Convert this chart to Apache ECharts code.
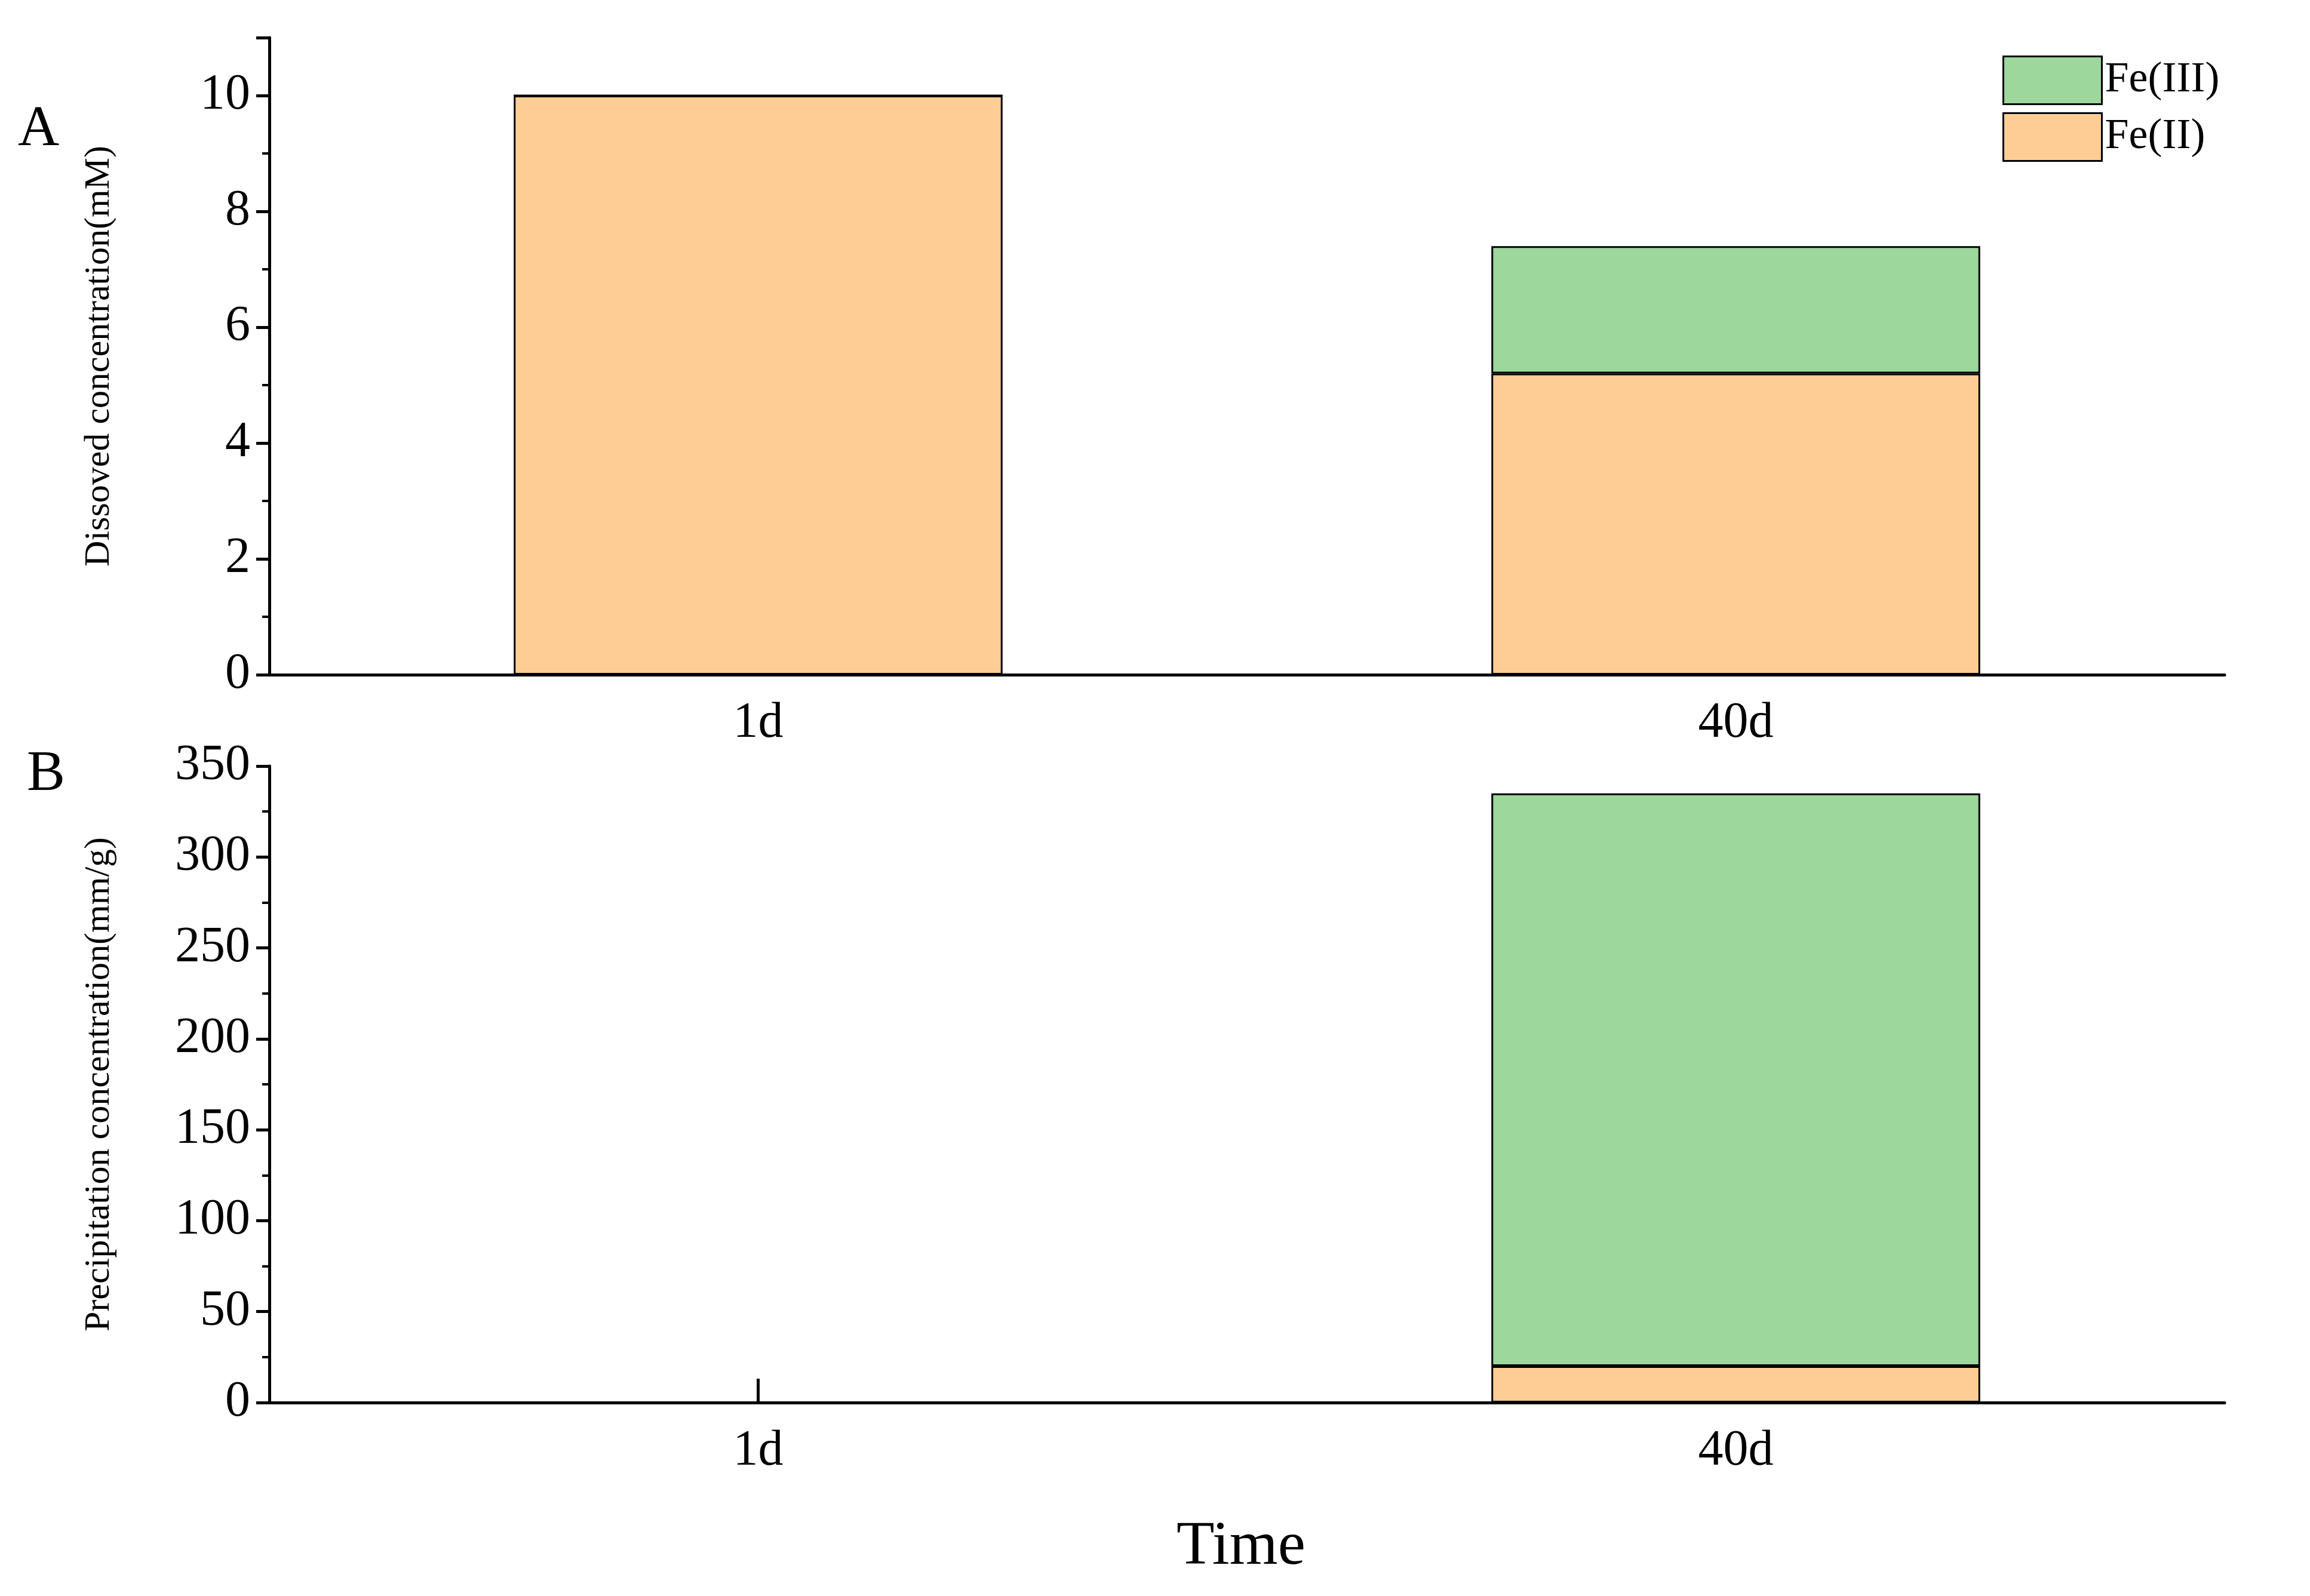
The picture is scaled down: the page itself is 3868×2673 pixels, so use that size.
<!DOCTYPE html>
<html><head><meta charset="utf-8">
<script src="https://cdn.jsdelivr.net/npm/echarts@6/dist/echarts.min.js"></script>
<style>html,body{margin:0;padding:0;background:#fff}#c{width:3868px;height:2673px}</style>
</head><body><div id="c"></div>
<script>
const categories = ['1d', '40d'];
const dissolvedFe2 = [10, 5.2];
const dissolvedFe3 = [0, 2.2];
const precipFe2 = [0, 20];
const precipFe3 = [0, 315];
const FONT = 'Liberation Serif';
const C2 = '#fdcd95', C3 = '#9dd79b';
const chart = echarts.init(document.getElementById('c'));
const axisLine = {show:true, lineStyle:{color:'#000', width:5}};
function xAxis(i){return {type:'category', gridIndex:i, data:categories,
  axisLine, axisTick:{show:true, alignWithLabel:true, inside:true, length:40, lineStyle:{width:5,color:'#000'}},
  axisLabel:{fontFamily:FONT, fontSize:84, color:'#000', margin:40}};}
function yAxis(i,max,interval,name,gap){return {type:'value', gridIndex:i, min:0, max, interval,
  name, nameLocation:'middle', nameGap:gap, nameTextStyle:{fontFamily:FONT,fontSize:60,color:'#000'},
  axisLine, axisTick:{show:true, length:22, lineStyle:{width:5,color:'#000'}},
  minorTick:{show:true, splitNumber:2, length:12, lineStyle:{width:4,color:'#000'}},
  splitLine:{show:false},
  axisLabel:{fontFamily:FONT, fontSize:84, color:'#000', margin:32,
    formatter:v=> (max===11 && v>10) ? '' : v}};}
const bs = {borderColor:'#000', borderWidth:3};
chart.setOption({
  animation:false,
  grid:[{left:451,right:143,top:63,height:1067},{left:451,right:143,top:1283,height:1066}],
  xAxis:[xAxis(0), xAxis(1)],
  yAxis:[yAxis(0,11,2,'Dissoved concentration(mM)',255), yAxis(1,350,50,'Precipitation concentration(mm/g)',255)],
  legend:{data:['Fe(III)','Fe(II)'], orient:'vertical', left:3348, top:88, itemWidth:165, itemHeight:80, itemGap:12,
    textStyle:{fontFamily:FONT, fontSize:72, color:'#000'}, icon:'rect',
    itemStyle:{borderColor:'#000',borderWidth:3}},
  series:[
    {name:'Fe(II)', type:'bar', stack:'a', xAxisIndex:0, yAxisIndex:0, data:dissolvedFe2, barWidth:'50%', itemStyle:{color:C2,...bs}},
    {name:'Fe(III)', type:'bar', stack:'a', xAxisIndex:0, yAxisIndex:0, data:dissolvedFe3, barWidth:'50%', itemStyle:{color:C3,...bs}},
    {name:'Fe(II)', type:'bar', stack:'b', xAxisIndex:1, yAxisIndex:1, data:precipFe2, barWidth:'50%', itemStyle:{color:C2,...bs}},
    {name:'Fe(III)', type:'bar', stack:'b', xAxisIndex:1, yAxisIndex:1, data:precipFe3, barWidth:'50%', itemStyle:{color:C3,...bs}}
  ],
  graphic:[
    {type:'text', left:30, top:170, style:{text:'A', fontFamily:FONT, fontSize:96, fill:'#000'}},
    {type:'text', left:45, top:1250, style:{text:'B', fontFamily:FONT, fontSize:96, fill:'#000'}},
    {type:'text', left:1970, top:2540, style:{text:'Time', fontFamily:FONT, fontSize:104, fill:'#000'}}
  ]
});
</script></body></html>
